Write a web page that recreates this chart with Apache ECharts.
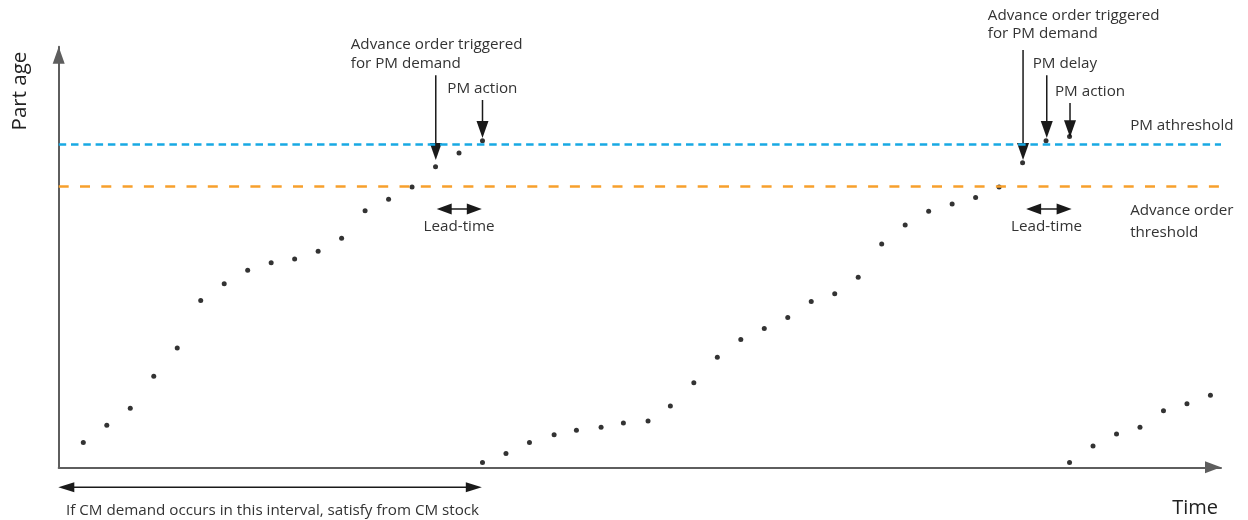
<!DOCTYPE html>
<html><head><meta charset="utf-8">
<script src="https://cdn.jsdelivr.net/npm/echarts@6/dist/echarts.min.js"></script>
<style>html,body{margin:0;padding:0;background:#fff}#c{width:1248px;height:520px}</style>
</head><body><div id="c"></div>
<script>
// ---- data ----
const times = [0,1,2,3,4,5,6,7,8,9,10,11,12,13,14,15,16,17,
  17,18,19,20.05,21,22.05,23,24.05,25,26,27,28,29,30,31,32,33,34,35,36,37,38,39,40,41,42,
  42,43,44,45,46,47,48];
const partAge = [7.7,13.0,18.3,28.2,36.9,51.6,56.8,61.0,63.3,64.5,66.9,70.9,79.4,83.0,86.8,93.0,97.3,101.1,
  1.5,4.3,7.7,10.1,11.5,12.4,13.7,14.3,19.0,26.2,34.1,39.6,43.0,46.4,51.3,53.7,58.8,69.1,75.0,79.3,81.5,83.5,86.8,94.3,101.1,102.4,
  1.5,6.6,10.3,12.4,17.5,19.7,22.3];
const thresholdNames = ['PM athreshold', 'Advance order threshold'];
const thresholdValues = [100, 87];
// event arrows (vertical, pointing down)
const eventArrowTime = [15.01, 17.0, 40.02, 41.03, 42.02];
const eventArrowFrom = [121.4, 113.7, 129.2, 121.4, 112.77];
const eventArrowTo   = [95.12, 101.9, 95.12, 101.9, 102.2];
// lead-time double arrows
const leadStart = [15.05, 40.15];
const leadEnd   = [16.97, 42.09];
const leadLevel = 79.96;
// CM interval
const cmStart = -1.065, cmEnd = 16.97, cmLevel = -6.19;
// annotation texts
const labelTexts = ['Advance order triggered\nfor PM demand', 'PM action', 'Lead-time',
  'Advance order triggered\nfor PM demand', 'PM delay', 'PM action', 'PM athreshold', 'Lead-time',
  'Advance order\nthreshold', 'If CM demand occurs in this interval, satisfy from CM stock'];
const labelT = [11.39, 15.50, 16.0, 38.52, 40.43, 41.38, 44.58, 41.02, 44.58, -0.737];
const labelV = [127.88, 117.32, 74.48, 136.94, 125.06, 116.27, 105.65, 74.48, 76.09, -13.43];
const labelAlign = ['left','left','center','left','left','left','left','center','left','left'];
const axisNames = ['Time', 'Part age'];

// ---- chart ----
const chart = echarts.init(document.getElementById('c'), null, {renderer: 'canvas'});
const FONT = '"Open Sans"';
const TXT = '#333333';

function arrowRender(headLen, headWid, both, lw) {
  return function (params, api) {
    const p1 = api.coord([api.value(0), api.value(1)]);
    const p2 = api.coord([api.value(2), api.value(3)]);
    const dx = p2[0] - p1[0], dy = p2[1] - p1[1];
    const L = Math.sqrt(dx * dx + dy * dy);
    const ux = dx / L, uy = dy / L, px = -uy, py = ux;
    const children = [];
    const head = (tip, sx, sy) => {
      const bx = tip[0] - sx * headLen, by = tip[1] - sy * headLen;
      return {type: 'polygon', shape: {points: [[tip[0], tip[1]],
        [bx + px * headWid / 2, by + py * headWid / 2], [bx - px * headWid / 2, by - py * headWid / 2]]},
        style: {fill: '#1a1a1a'}};
    };
    const s = both ? [p1[0] + ux * headLen * 0.6, p1[1] + uy * headLen * 0.6] : p1;
    const e = [p2[0] - ux * headLen * 0.6, p2[1] - uy * headLen * 0.6];
    children.push({type: 'line', shape: {x1: s[0], y1: s[1], x2: e[0], y2: e[1]},
      style: {stroke: '#1a1a1a', lineWidth: lw}});
    children.push(head(p2, ux, uy));
    if (both) children.push(head(p1, -ux, -uy));
    return {type: 'group', children};
  };
}

chart.setOption({
  animation: false,
  grid: {left: 58.7, right: 27, top: 46.7, bottom: 52.7},
  xAxis: {
    type: 'value', min: -1.048, max: 48.45,
    axisLine: {show: true, onZero: false, lineStyle: {color: '#5e5e5e', width: 2},
      symbol: ['none', 'triangle'], symbolSize: [12, 16], symbolOffset: [0, -8]},
    axisTick: {show: false}, axisLabel: {show: false}, splitLine: {show: false}
  },
  yAxis: {
    type: 'value', min: 0, max: 130.2,
    axisLine: {show: true, onZero: false, lineStyle: {color: '#5e5e5e', width: 2},
      symbol: ['none', 'triangle'], symbolSize: [12, 17], symbolOffset: [0, -8.5]},
    axisTick: {show: false}, axisLabel: {show: false}, splitLine: {show: false}
  },
  graphic: [
    {type: 'text', x: 1218, y: 508, style: {text: axisNames[0], align: 'right', verticalAlign: 'middle',
      fontFamily: FONT, fontSize: 20, fill: '#222'}},
    {type: 'text', x: 20, y: 91, rotation: Math.PI / 2, style: {text: axisNames[1], align: 'center', verticalAlign: 'middle',
      fontFamily: FONT, fontSize: 20.5, fill: '#222'}}
  ],
  series: [
    {
      type: 'scatter', name: 'Part age',
      data: times.map((t, i) => [t, partAge[i]]),
      symbolSize: 5, itemStyle: {color: '#000000'}, silent: true, clip: false,
      markLine: {
        silent: true, symbol: ['none', 'none'], label: {show: false},
        data: [
          {name: thresholdNames[0], yAxis: thresholdValues[0], lineStyle: {color: '#18a9e3', width: 2.5, type: [7.5, 4.8]}},
          {name: thresholdNames[1], yAxis: thresholdValues[1], lineStyle: {color: '#f7a02c', width: 2.5, type: [10, 11.3]}}
        ]
      }
    },
    {
      type: 'custom', silent: true,
      data: eventArrowTime.map((t, i) => [t, eventArrowFrom[i], t, eventArrowTo[i]]),
      renderItem: arrowRender(17, 12, false, 1.5)
    },
    {
      type: 'custom', silent: true,
      data: leadStart.map((t, i) => [t, leadLevel, leadEnd[i], leadLevel]),
      renderItem: arrowRender(15, 11, true, 1.5)
    },
    {
      type: 'custom', silent: true,
      data: [[cmStart, cmLevel, cmEnd, cmLevel]],
      renderItem: arrowRender(16, 10, true, 1.5)
    },
    {
      type: 'custom', silent: true,
      data: labelTexts.map((s, i) => [labelT[i], labelV[i], i]),
      renderItem: function (params, api) {
        const i = api.value(2);
        const p = api.coord([api.value(0), api.value(1)]);
        return {type: 'text', x: p[0], y: p[1], style: {text: labelTexts[i], align: labelAlign[i],
          verticalAlign: 'middle', fontFamily: FONT, fontSize: 15.2, lineHeight: i === 8 ? 21.6 : 18.4, fill: TXT}};
      }
    }
  ]
});
</script></body></html>
